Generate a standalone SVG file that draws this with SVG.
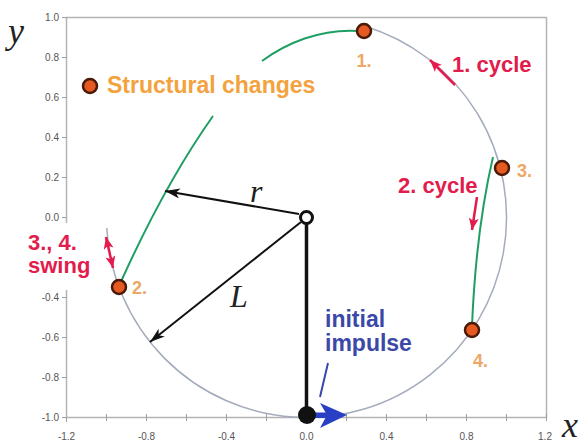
<svg xmlns="http://www.w3.org/2000/svg" width="587" height="445" viewBox="0 0 587 445">
<defs>
<style>
.frame{fill:none;stroke:#b4b4b4;stroke-width:1.5}
.tick{stroke:#a0a0a0;stroke-width:1}
.tl{font-family:"Liberation Sans",Arial,sans-serif;font-size:10px;fill:#555}
.tlx{font-family:"Liberation Sans",Arial,sans-serif;font-size:10px;fill:#555;text-anchor:middle}
.ax{font-family:"Liberation Serif","Times New Roman",serif;font-style:italic;font-size:36px;fill:#222}
.sym{font-family:"Liberation Serif","Times New Roman",serif;font-style:italic;font-size:32px;fill:#222}
.lbl{font-family:"Liberation Sans",Arial,sans-serif;font-weight:bold}
.red{fill:#e21c4c;font-size:22px}
.blue{fill:#3b48a8;font-size:23px}
.org{fill:#f3a23e;font-size:23px}
.num{fill:#eda766;font-size:18px}
.dot{fill:#e65a22;stroke:#4a1a08;stroke-width:2.5}
.green{fill:none;stroke:#1f9e64;stroke-width:2}
.traj{fill:none;stroke:#a4acbc;stroke-width:1.5}
.blk{stroke:#111;stroke-width:2;fill:none}
.redl{stroke:#e21c4c;stroke-width:2.5;fill:none}
</style>
<marker id="ab" markerUnits="userSpaceOnUse" markerWidth="16" markerHeight="12" refX="15" refY="5" orient="auto">
<path d="M0,0 L15,5 L0,10 L4,5 z" fill="#111"/>
</marker>
<marker id="ar" markerUnits="userSpaceOnUse" markerWidth="14" markerHeight="12" refX="12" refY="5" orient="auto-start-reverse">
<path d="M0,0 L12,5 L0,10 L3,5 z" fill="#e21c4c"/>
</marker>
</defs>
<rect width="587" height="445" fill="#fff"/>

<g id="axes">
<rect class="frame" x="66.5" y="17.5" width="480" height="400"/>
<g class="tick">
<path d="M62,17.5H66.5M62,57.5H66.5M62,97.5H66.5M62,137.5H66.5M62,177.5H66.5M62,217.5H66.5M62,257.5H66.5M62,297.5H66.5M62,337.5H66.5M62,377.5H66.5M62,417.5H66.5"/>
<path d="M66.5,417.5V422M106.5,414V421M146.5,414V421M186.5,414V421M226.5,414V421M266.5,414V421M306.5,414V421M346.5,414V421M386.5,414V421M426.5,414V421M466.5,414V421M506.5,414V421M546.5,414V421"/>
</g>
<g class="tl" text-anchor="end">
<text x="59" y="21">1.0</text>
<text x="59" y="61">0.8</text>
<text x="59" y="101">0.6</text>
<text x="59" y="141">0.4</text>
<text x="59" y="181">0.2</text>
<text x="59" y="221">0.0</text>
<text x="59" y="301">-0.4</text>
<text x="59" y="341">-0.6</text>
<text x="59" y="381">-0.8</text>
<text x="59" y="421">-1.0</text>
</g>
<g class="tlx">
<text x="66.5" y="440">-1.2</text>
<text x="146.5" y="440">-0.8</text>
<text x="226.5" y="440">-0.4</text>
<text x="306.5" y="440">0.0</text>
<text x="386.5" y="440">0.4</text>
<text x="466.5" y="440">0.8</text>
<text x="545" y="440">1.2</text>
</g>
<text class="ax" x="8" y="43">y</text>
<text class="ax" x="562" y="437">x</text>
</g>

<g id="connectors">
<path id="trajectory" class="traj" d="M106.8,228 A200,200 0 1 0 365,26.2"/>
<path id="green-left-lower" class="green" d="M119,286 Q164.5,184.5 213,116"/>
<path id="green-left-upper" class="green" d="M262,61 C285,44 320,28 360,31"/>
<path id="green-right" class="green" d="M493,157 Q476,230 472,326"/>
<line id="arrow-r" class="blk" x1="299" y1="214" x2="165" y2="191" marker-end="url(#ab)"/>
<line id="arrow-L" class="blk" x1="301" y1="222" x2="150" y2="342" marker-end="url(#ab)"/>
<line id="string" x1="306.5" y1="224" x2="306.5" y2="410" stroke="#111" stroke-width="3.5"/>
<line id="arrow-cycle1" class="redl" x1="455" y1="85" x2="430" y2="60" marker-end="url(#ar)"/>
<line id="arrow-cycle2" class="redl" x1="477" y1="197" x2="472" y2="230" marker-end="url(#ar)"/>
<line id="arrow-swing" class="redl" x1="106" y1="237" x2="113" y2="268" marker-start="url(#ar)" marker-end="url(#ar)"/>
<line id="impulse-pointer" x1="328" y1="363" x2="320" y2="397" stroke="#3b48a8" stroke-width="2"/>
<g id="impulse-arrow" fill="#2a40c4">
<rect x="307" y="412.5" width="24" height="5.5"/>
<polygon points="320,403 347,415 320,428 327,415"/>
</g>
</g>

<g id="swing-label">
<rect x="22" y="223" width="78" height="67" fill="#fff"/>
<text class="lbl red" x="28" y="250">3., 4.</text>
<text class="lbl red" x="28" y="273">swing</text>
</g>

<g id="structural-changes">
<circle class="dot" cx="90" cy="86" r="7"/>
<text class="lbl org" x="107" y="93">Structural changes</text>
</g>

<g id="point1">
<circle class="dot" cx="364" cy="31" r="7"/>
<text class="lbl num" x="364" y="67" text-anchor="middle">1.</text>
</g>
<g id="point2">
<circle class="dot" cx="119" cy="287" r="7"/>
<text class="lbl num" x="132" y="294">2.</text>
</g>
<g id="point3">
<circle class="dot" cx="502" cy="168" r="7"/>
<text class="lbl num" x="517" y="177">3.</text>
</g>
<g id="point4">
<circle class="dot" cx="472" cy="330" r="7"/>
<text class="lbl num" x="473" y="367">4.</text>
</g>

<g id="cycle1-label"><text class="lbl red" x="452" y="72">1. cycle</text></g>
<g id="cycle2-label"><text class="lbl red" x="398" y="193">2. cycle</text></g>

<g id="pivot">
<circle cx="306.5" cy="217.5" r="6" fill="#fff" stroke="#111" stroke-width="3"/>
</g>
<g id="bob">
<circle cx="307" cy="415" r="9" fill="#111"/>
</g>
<g id="labels-rL">
<text class="sym" x="250" y="202">r</text>
<text class="sym" x="230" y="307">L</text>
</g>
<g id="impulse-label">
<text class="lbl blue" x="325" y="327">initial</text>
<text class="lbl blue" x="325" y="351">impulse</text>
</g>
</svg>
